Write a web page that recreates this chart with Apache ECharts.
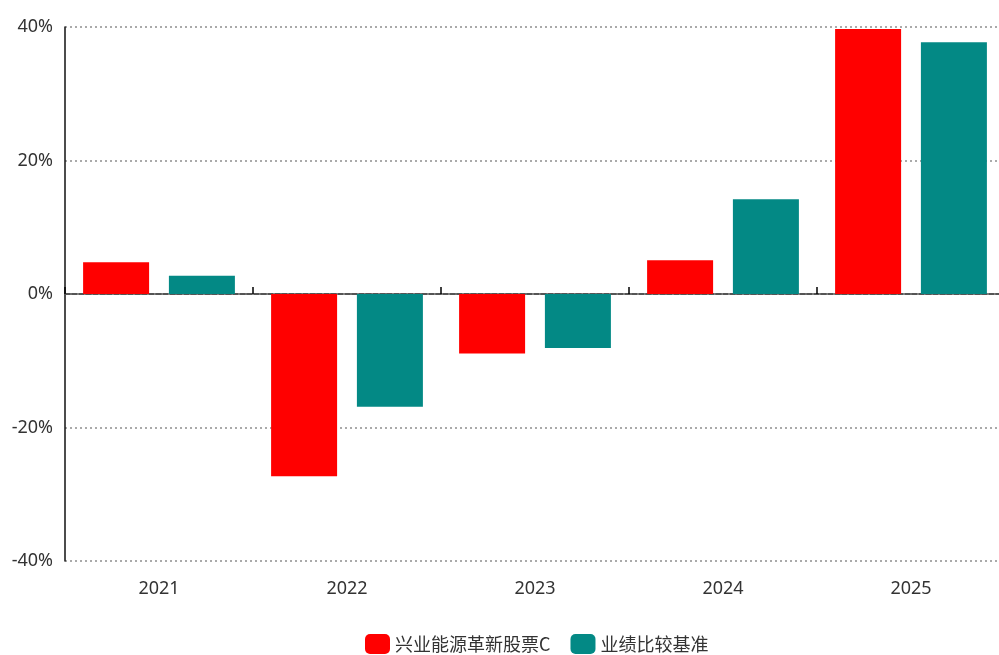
<!DOCTYPE html>
<html><head><meta charset="utf-8">
<script src="https://cdn.jsdelivr.net/npm/echarts@6/dist/echarts.min.js"></script>
<style>html,body{margin:0;padding:0;background:#fff}#c{width:999px;height:655px}</style>
</head><body><div id="c"></div>
<script>
const categories = ['2021','2022','2023','2024','2025'];
const fundName = '兴业能源革新股票C';
const benchName = '业绩比较基准';
const fundValues = [4.75, -27.3, -8.9, 5.05, 39.7];
const benchValues = [2.74, -16.9, -8.1, 14.2, 37.7];
const yTicks = [-40, -20, 0, 20, 40];

const font = "'Liberation Sans Narrow','Noto Sans','Noto Sans CJK SC',sans-serif";
const cjkFont = "'Noto Sans CJK SC',sans-serif";
const chart = echarts.init(document.getElementById('c'));
chart.setOption({
  animation: false,
  grid: {left: 65, width: 940, top: 27, bottom: 94, containLabel: false, outerBoundsMode: 'none'},
  legend: {
    left: 360, top: 629, itemWidth: 25, itemHeight: 20, itemGap: 20,
    icon: 'roundRect',
    textStyle: {fontFamily: cjkFont, fontSize: 18, color: '#333'},
    data: [fundName, benchName]
  },
  xAxis: {
    type: 'category', data: categories,
    axisLine: {onZero: true, lineStyle: {color: '#555', width: 2, type: [5, 2]}},
    axisTick: {show: true, inside: true, length: 7, lineStyle: {color: '#000', width: 1.5}},
    axisLabel: {fontFamily: font, fontSize: 18, color: '#333', margin: 19},
    splitLine: {show: false}
  },
  yAxis: {
    type: 'value', min: yTicks[0], max: yTicks[yTicks.length-1], interval: 20,
    axisLine: {show: true, lineStyle: {color: '#111', width: 1.5}},
    axisTick: {show: false},
    axisLabel: {fontFamily: font, fontSize: 18, color: '#333', margin: 12, formatter: v => v + '%'},
    splitLine: {show: true, lineStyle: {color: '#aaa', width: 2, type: [2, 3]}}
  },
  series: [
    {name: fundName, type: 'bar', data: fundValues, barWidth: 66, barGap: '30%',
      itemStyle: {color: '#ff0000'}},
    {name: benchName, type: 'bar', data: benchValues, barWidth: 66,
      itemStyle: {color: '#038985'}}
  ]
});
</script></body></html>
